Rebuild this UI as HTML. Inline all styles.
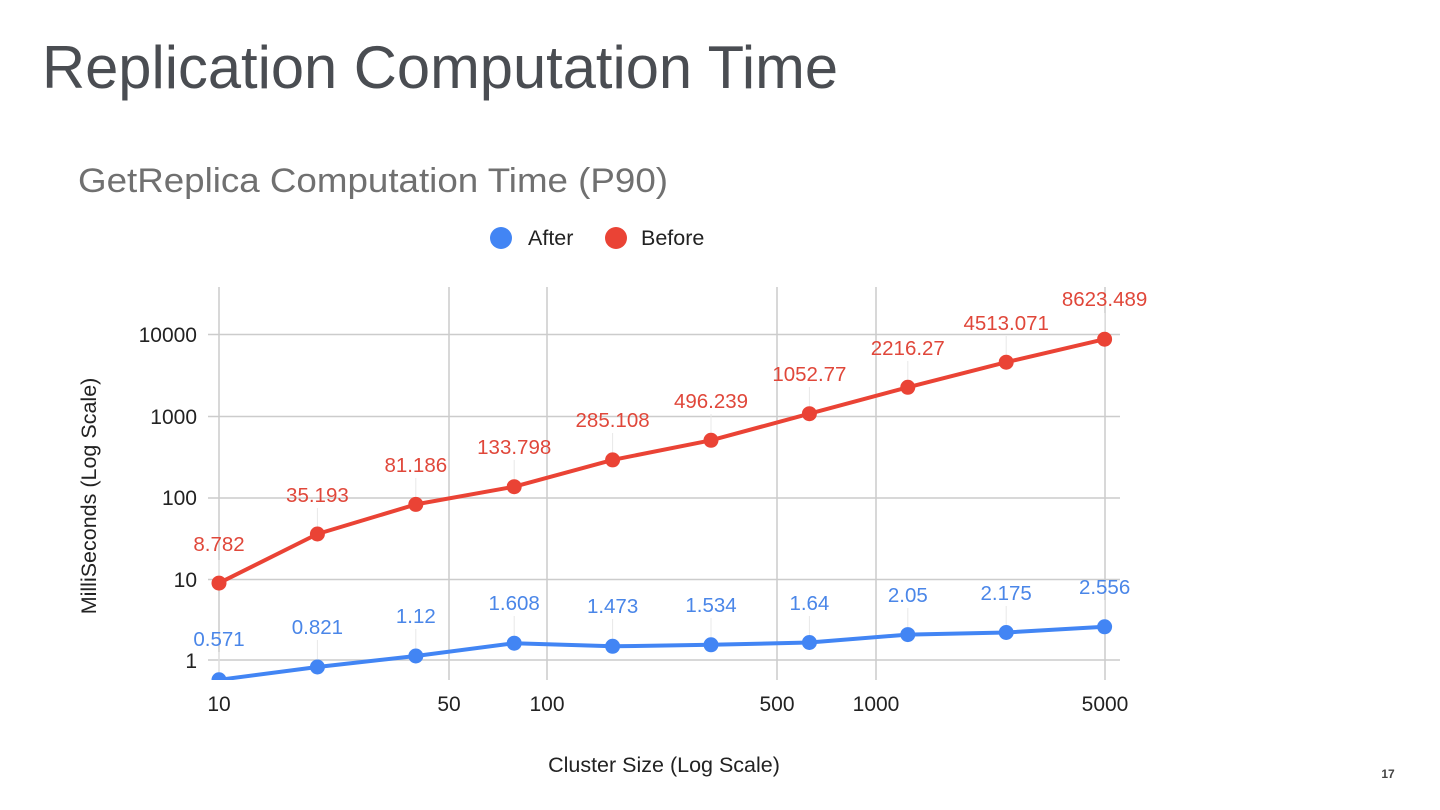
<!DOCTYPE html>
<html><head><meta charset="utf-8"><style>
html,body{margin:0;padding:0;background:#fff;}
svg{display:block;font-family:"Liberation Sans",Arial,sans-serif;}
</style></head><body>
<svg width="1440" height="810" viewBox="0 0 1440 810" xmlns="http://www.w3.org/2000/svg">
<rect width="1440" height="810" fill="#fff"/>
<text x="42" y="88" font-size="60" fill="#4a4d52" textLength="796" lengthAdjust="spacingAndGlyphs">Replication Computation Time</text>
<text x="78" y="192" font-size="34" fill="#707070" textLength="590" lengthAdjust="spacingAndGlyphs">GetReplica Computation Time (P90)</text>
<circle cx="501" cy="238" r="11" fill="#4285f4"/>
<text x="528" y="245" font-size="21.5" fill="#222">After</text>
<circle cx="616" cy="238" r="11" fill="#ea4335"/>
<text x="641" y="245" font-size="21.5" fill="#222">Before</text>
<g stroke="#cccccc" stroke-width="1.5">
<line x1="208" y1="334.5" x2="1120" y2="334.5"/>
<line x1="208" y1="416.5" x2="1120" y2="416.5"/>
<line x1="208" y1="498" x2="1120" y2="498"/>
<line x1="208" y1="579.5" x2="1120" y2="579.5"/>
<line x1="208" y1="660" x2="1120" y2="660"/>
<line x1="219" y1="287" x2="219" y2="680"/>
<line x1="449" y1="287" x2="449" y2="680"/>
<line x1="547" y1="287" x2="547" y2="680"/>
<line x1="777" y1="287" x2="777" y2="680"/>
<line x1="876" y1="287" x2="876" y2="680"/>
<line x1="1105" y1="287" x2="1105" y2="680"/>
</g>
<g font-size="21" fill="#222" text-anchor="end">
<text x="197" y="342">10000</text><text x="197" y="424">1000</text><text x="197" y="505">100</text><text x="197" y="587">10</text><text x="197" y="668">1</text>
</g>
<g font-size="21" fill="#222" text-anchor="middle">
<text x="219" y="711">10</text><text x="449" y="711">50</text><text x="547" y="711">100</text><text x="777" y="711">500</text><text x="876" y="711">1000</text><text x="1105" y="711">5000</text>
</g>
<text transform="translate(96,496) rotate(-90)" font-size="21.5" fill="#222" text-anchor="middle">MilliSeconds (Log Scale)</text>
<text x="664" y="772" font-size="21.5" fill="#222" text-anchor="middle">Cluster Size (Log Scale)</text>
<text x="1388" y="778" font-size="12" font-weight="bold" fill="#444" text-anchor="middle">17</text>
<defs><clipPath id="c"><rect x="150" y="280" width="1000" height="400"/></clipPath></defs>
<g stroke="#e8e8e8" stroke-width="1">
<line x1="219" y1="560" x2="219" y2="577"/><line x1="317.4" y1="508" x2="317.4" y2="528"/><line x1="415.8" y1="478" x2="415.8" y2="498"/><line x1="514.2" y1="460" x2="514.2" y2="480"/><line x1="612.6" y1="433" x2="612.6" y2="453"/><line x1="711" y1="414" x2="711" y2="434"/><line x1="809.4" y1="387" x2="809.4" y2="407"/><line x1="907.8" y1="361" x2="907.8" y2="381"/><line x1="1006.2" y1="336" x2="1006.2" y2="356"/><line x1="1104.6" y1="313" x2="1104.6" y2="333"/>
<line x1="219" y1="652" x2="219" y2="673"/><line x1="317.4" y1="640" x2="317.4" y2="660"/><line x1="415.8" y1="629" x2="415.8" y2="649"/><line x1="514.2" y1="616" x2="514.2" y2="636"/><line x1="612.6" y1="619" x2="612.6" y2="639"/><line x1="711" y1="618" x2="711" y2="638"/><line x1="809.4" y1="616" x2="809.4" y2="636"/><line x1="907.8" y1="608" x2="907.8" y2="628"/><line x1="1006.2" y1="606" x2="1006.2" y2="626"/><line x1="1104.6" y1="600" x2="1104.6" y2="620"/>
</g>
<g clip-path="url(#c)">
<polyline fill="none" stroke="#ea4335" stroke-width="4" stroke-linejoin="round" points="219,583.1 317.4,534 415.8,504.4 514.2,486.7 612.6,459.9 711,440.3 809.4,413.7 907.8,387.3 1006.2,362.2 1104.6,339.2"/>
<polyline fill="none" stroke="#4285f4" stroke-width="4" stroke-linejoin="round" points="219,679.8 317.4,667 415.8,656 514.2,643.2 612.6,646.3 711,644.8 809.4,642.5 907.8,634.6 1006.2,632.5 1104.6,626.8"/>
<g fill="#ea4335">
<circle cx="219" cy="583.1" r="7.5"/><circle cx="317.4" cy="534" r="7.5"/><circle cx="415.8" cy="504.4" r="7.5"/><circle cx="514.2" cy="486.7" r="7.5"/><circle cx="612.6" cy="459.9" r="7.5"/><circle cx="711" cy="440.3" r="7.5"/><circle cx="809.4" cy="413.7" r="7.5"/><circle cx="907.8" cy="387.3" r="7.5"/><circle cx="1006.2" cy="362.2" r="7.5"/><circle cx="1104.6" cy="339.2" r="7.5"/>
</g>
<g fill="#4285f4">
<circle cx="219" cy="679.8" r="7.5"/><circle cx="317.4" cy="667" r="7.5"/><circle cx="415.8" cy="656" r="7.5"/><circle cx="514.2" cy="643.2" r="7.5"/><circle cx="612.6" cy="646.3" r="7.5"/><circle cx="711" cy="644.8" r="7.5"/><circle cx="809.4" cy="642.5" r="7.5"/><circle cx="907.8" cy="634.6" r="7.5"/><circle cx="1006.2" cy="632.5" r="7.5"/><circle cx="1104.6" cy="626.8" r="7.5"/>
</g>
</g>
<g font-size="20.5" fill="#e0473a" text-anchor="middle">
<text x="219" y="551">8.782</text><text x="317.4" y="502">35.193</text><text x="415.8" y="472">81.186</text><text x="514.2" y="454">133.798</text><text x="612.6" y="427">285.108</text><text x="711" y="408">496.239</text><text x="809.4" y="381">1052.77</text><text x="907.8" y="355">2216.27</text><text x="1006.2" y="330">4513.071</text><text x="1104.6" y="306">8623.489</text>
</g>
<g font-size="20.5" fill="#4a86e8" text-anchor="middle">
<text x="219" y="646">0.571</text><text x="317.4" y="634">0.821</text><text x="415.8" y="623">1.12</text><text x="514.2" y="610">1.608</text><text x="612.6" y="613">1.473</text><text x="711" y="612">1.534</text><text x="809.4" y="610">1.64</text><text x="907.8" y="602">2.05</text><text x="1006.2" y="600">2.175</text><text x="1104.6" y="594">2.556</text>
</g>
</svg>
</body></html>
